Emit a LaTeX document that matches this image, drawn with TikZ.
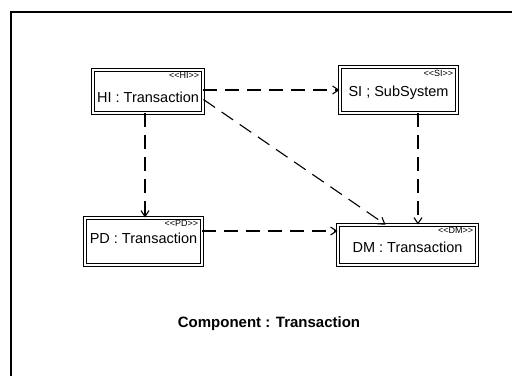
\documentclass[tikz,border=0pt]{standalone}
\usepackage{fontspec}
\setmainfont{Liberation Sans}
\usetikzlibrary{arrows.meta}
\begin{document}
\begin{tikzpicture}[x=1pt,y=-1pt,
  box/.style={draw,double,double distance=2pt,line width=0.9pt,inner sep=0pt},
  lbl/.style={font=\fontsize{14.5}{16}\selectfont,inner sep=0pt},
  stereo/.style={font=\fontsize{9}{10}\selectfont,inner sep=0pt,anchor=north east},
  dep/.style={draw,line width=1.1pt,dash pattern=on 14pt off 8pt,-{Straight Barb[length=6pt,width=8pt,line width=1.1pt]}},
  frame/.style={draw,line width=1.8pt}]
\useasboundingbox (0,0) rectangle (512,376);
% frame
\coordinate (f1) at (512,12);
\coordinate (f2) at (11,12);
\coordinate (f3) at (11,376);
\draw[frame] (f1) -- (f2) -- (f3);
% boxes
\node[box,minimum width=110pt,minimum height=43pt] (HI) at (148,91.5) {};
\node[box,minimum width=117pt,minimum height=46pt] (SI) at (398.5,90) {};
\node[box,minimum width=117pt,minimum height=47pt] (PD) at (143.5,241.5) {};
\node[box,minimum width=139pt,minimum height=40pt] (DM) at (407.5,245) {};
% labels
\node[lbl] (HIt) at (148,97) {HI : Transaction};
\node[lbl] (SIt) at (398.5,92.5) {SI ; SubSystem};
\node[lbl] (PDt) at (143.5,238.5) {PD : Transaction};
\node[lbl] (DMt) at (407.5,247) {DM : Transaction};
\node[stereo] (HIs) at ([xshift=-4pt,yshift=-3pt]HI.north east) {<{}<HI>{}>};
\node[stereo] (SIs) at ([xshift=-4pt,yshift=-3pt]SI.north east) {<{}<SI>{}>};
\node[stereo] (PDs) at ([xshift=-4pt,yshift=-3pt]PD.north east) {<{}<PD>{}>};
\node[stereo] (DMs) at ([xshift=-4pt,yshift=-3pt]DM.north east) {<{}<DM>{}>};
% connectors
\draw[dep] (HI.east |- 0,90) -- (SI.west |- 0,90);
\draw[dep] ([yshift=-8pt]HI.east) -- ([xshift=-22pt]DM.north);
\draw[dep] (HI.south -| 145,0) -- (PD.north -| 145,0);
\draw[dep] (SI.south -| 418,0) -- (DM.north -| 418,0);
\draw[dep] (PD.east |- 0,231) -- (DM.west |- 0,231);
% caption
\node[font=\bfseries\fontsize{15}{17}\selectfont,inner sep=0pt] (cap) at (269,324) {Component : Transaction};
\end{tikzpicture}
\end{document}
